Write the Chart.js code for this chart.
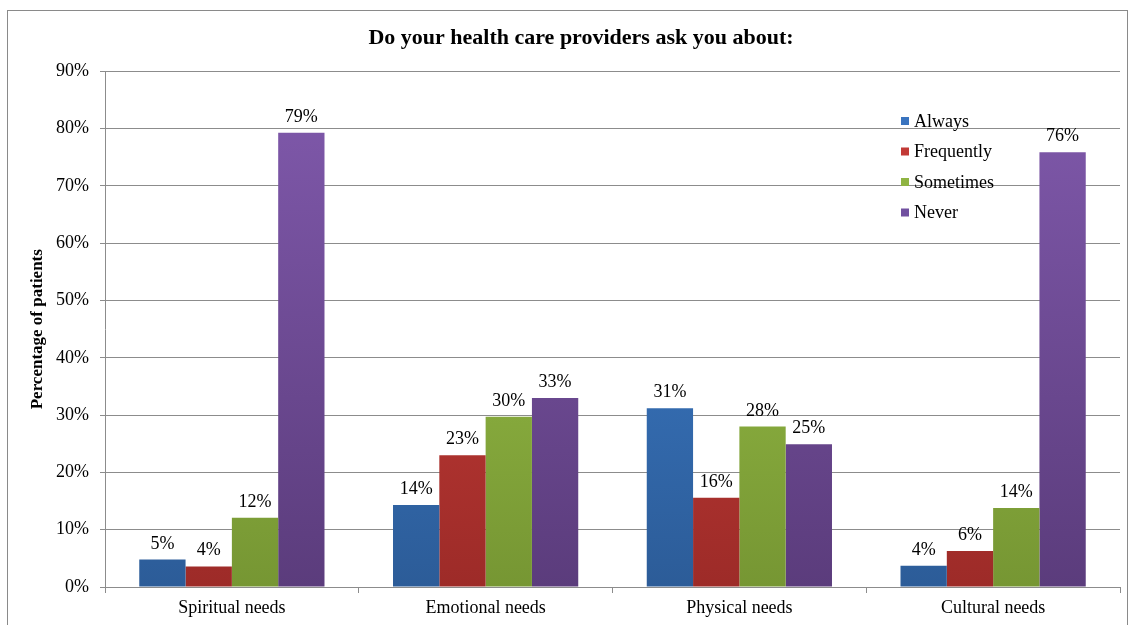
<!DOCTYPE html>
<html><head><meta charset="utf-8">
<script src="https://cdn.jsdelivr.net/npm/chart.js@4.4.1/dist/chart.umd.min.js"></script>
<style>
html,body{margin:0;padding:0;background:#fff;overflow:hidden;}
#wrap{position:absolute;left:0;top:0;width:1133px;height:625px;}
#frame{position:absolute;left:7px;top:10px;width:1121px;height:640px;border:1px solid #8a8a8a;box-sizing:border-box;}
canvas{position:absolute;left:0;top:0;}
</style></head><body>
<div id="wrap"><div id="frame"></div><canvas id="c" width="1133" height="625"></canvas></div>
<script>
const categories = ["Spiritual needs", "Emotional needs", "Physical needs", "Cultural needs"];
const seriesNames = ["Always", "Frequently", "Sometimes", "Never"];
const always     = [4.8, 14.3, 31.2, 3.7];
const frequently = [3.6, 23.0, 15.6, 6.3];
const sometimes  = [12.1, 29.7, 28.0, 13.8];
const never      = [79.3, 33.0, 24.9, 75.9];
const yTicks = [0, 10, 20, 30, 40, 50, 60, 70, 80, 90];
const chartTitle = "Do your health care providers ask you about:";
const yTitle = "Percentage of patients";

const palette = [
  {top:'#4084d6', bottom:'#2c5c98', solid:'#3a74bf'},
  {top:'#d6443f', bottom:'#9d2b28', solid:'#c23a36'},
  {top:'#a3cc4d', bottom:'#769633', solid:'#8fb443'},
  {top:'#815aad', bottom:'#5b3c7c', solid:'#7150a0'}
];
const FONT = '"Liberation Serif", "Times New Roman", serif';

function grad(i){
  return function(ctx){
    const ch = ctx.chart; const a = ch.chartArea;
    if(!a) return palette[i].solid;
    const g = ch.ctx.createLinearGradient(0, a.top, 0, a.bottom);
    g.addColorStop(0, palette[i].top);
    g.addColorStop(1, palette[i].bottom);
    return g;
  };
}
const seriesData = [always, frequently, sometimes, never];
const datasets = seriesNames.map((n,i)=>({
  label:n, data:seriesData[i], backgroundColor:grad(i),
  borderWidth:0, barPercentage:1.0, categoryPercentage:0.73
}));

const valueLabels = {
  id:'valueLabels',
  afterDatasetsDraw(chart){
    const ctx = chart.ctx;
    ctx.save();
    ctx.font = '18px ' + FONT;
    ctx.fillStyle = '#000';
    ctx.textAlign = 'center';
    ctx.textBaseline = 'alphabetic';
    chart.data.datasets.forEach((ds, di)=>{
      chart.getDatasetMeta(di).data.forEach((bar, idx)=>{
        ctx.fillText(Math.round(ds.data[idx]) + '%', bar.x, bar.y - 11);
      });
    });
    ctx.restore();
  }
};
const customLegend = {
  id:'customLegend',
  afterDraw(chart){
    const ctx = chart.ctx;
    ctx.save();
    ctx.font = '18px ' + FONT;
    ctx.textBaseline = 'middle';
    ctx.textAlign = 'left';
    const x0 = 901, y0 = 121, step = 30.5;
    chart.data.datasets.forEach((ds, i)=>{
      const y = y0 + i*step;
      ctx.fillStyle = palette[i].solid;
      ctx.fillRect(x0, y - 4, 8, 8);
      ctx.fillStyle = '#000';
      ctx.fillText(ds.label, x0 + 13, y + 1);
    });
    ctx.restore();
  }
};

new Chart(document.getElementById('c'), {
  type:'bar',
  data:{labels:categories, datasets:datasets},
  plugins:[valueLabels, customLegend],
  options:{
    responsive:false, animation:false,
    layout:{padding:{left:42, right:13, top:0, bottom:0}},
    plugins:{
      legend:{display:false},
      tooltip:{enabled:false},
      title:{display:true, text:chartTitle, color:'#000',
        font:{family:FONT, size:22, weight:'bold'}, padding:{top:25, bottom:20}}
    },
    scales:{
      x:{
        grid:{display:true, drawOnChartArea:false, offset:true, tickLength:6, color:'#8c8c8c'},
        border:{color:'#8c8c8c'},
        ticks:{color:'#000', font:{family:FONT, size:18}, padding:4},
        afterFit(s){ s.height = 38; }
      },
      y:{
        min:0, max:90,
        afterBuildTicks(s){ s.ticks = yTicks.map(v=>({value:v})); },
        grid:{color:'#8c8c8c', tickLength:5},
        border:{color:'#8c8c8c'},
        ticks:{color:'#000', font:{family:FONT, size:18}, padding:11, callback:v=>v+'%'},
        title:{display:true, text:yTitle, color:'#000', font:{family:FONT, size:17, weight:'bold'}, padding:{top:-15,bottom:0}},
        afterFit(s){ s.width = 63; }
      }
    }
  }
});
</script>
</body></html>
